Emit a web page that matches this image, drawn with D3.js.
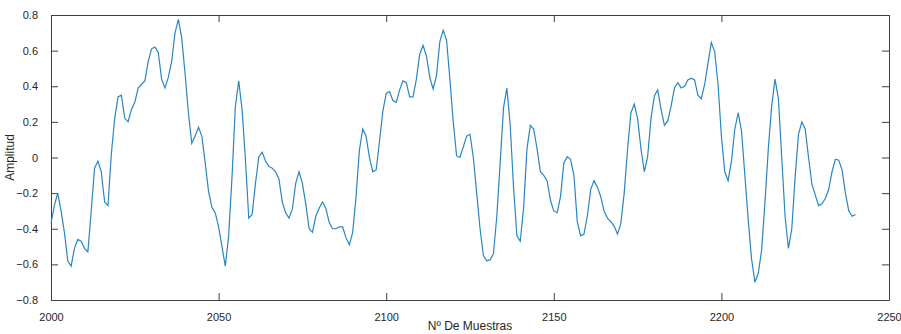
<!DOCTYPE html>
<html>
<head>
<meta charset="utf-8">
<script src="https://cdn.jsdelivr.net/npm/d3@7"></script>
<style>
  body { margin: 0; background: #fff; }
  .axis text { font-family: "Liberation Sans", Arial, sans-serif; font-size: 11px; fill: #262626; }
</style>
</head>
<body>
<div id="chart"></div>
<script>
// Sample range and signal values (one per sample, 2000..2240)
const startSample = 2000;
const amplitude = [
  -0.37, -0.27, -0.20, -0.30, -0.42, -0.58, -0.61, -0.51, -0.46, -0.47,
  -0.51, -0.53, -0.30, -0.06, -0.02, -0.08, -0.25, -0.27, 0.02, 0.22,
  0.34, 0.35, 0.22, 0.20, 0.27, 0.31, 0.39, 0.41, 0.43, 0.54,
  0.61, 0.62, 0.59, 0.44, 0.39, 0.45, 0.54, 0.70, 0.776, 0.67,
  0.47, 0.25, 0.08, 0.12, 0.17, 0.12, -0.03, -0.19, -0.28, -0.31,
  -0.39, -0.50, -0.61, -0.44, -0.11, 0.285, 0.43, 0.27, -0.01, -0.34,
  -0.32, -0.145, 0.005, 0.03, -0.02, -0.05, -0.06, -0.08, -0.12, -0.25,
  -0.31, -0.34, -0.29, -0.145, -0.08, -0.145, -0.26, -0.40, -0.42, -0.33,
  -0.285, -0.25, -0.285, -0.365, -0.40, -0.40, -0.39, -0.39, -0.45, -0.49,
  -0.42, -0.22, 0.04, 0.16, 0.12, 0.0, -0.08, -0.07, 0.09, 0.26,
  0.36, 0.37, 0.32, 0.31, 0.38, 0.43, 0.42, 0.34, 0.34, 0.44,
  0.58, 0.63, 0.57, 0.45, 0.385, 0.46, 0.65, 0.715, 0.66, 0.44,
  0.20, 0.01, 0.0, 0.06, 0.12, 0.13, 0.0, -0.20, -0.40, -0.55,
  -0.58, -0.575, -0.54, -0.33, -0.03, 0.28, 0.39, 0.18, -0.17, -0.44,
  -0.47, -0.28, 0.05, 0.18, 0.16, 0.05, -0.08, -0.10, -0.13, -0.24,
  -0.30, -0.31, -0.22, -0.03, 0.005, -0.01, -0.10, -0.36, -0.44, -0.43,
  -0.33, -0.18, -0.13, -0.165, -0.22, -0.30, -0.34, -0.36, -0.385, -0.43,
  -0.37, -0.20, 0.045, 0.25, 0.30, 0.22, 0.05, -0.08, 0.005, 0.22,
  0.345, 0.38, 0.27, 0.18, 0.205, 0.29, 0.39, 0.42, 0.39, 0.40,
  0.435, 0.445, 0.435, 0.35, 0.33, 0.41, 0.53, 0.645, 0.595, 0.41,
  0.12, -0.08, -0.13, -0.02, 0.16, 0.25, 0.15, -0.10, -0.35, -0.57,
  -0.70, -0.65, -0.52, -0.25, 0.05, 0.29, 0.44, 0.33, 0.0, -0.33,
  -0.51, -0.40, -0.11, 0.13, 0.20, 0.16, 0.0, -0.15, -0.21, -0.27,
  -0.26, -0.23, -0.18, -0.08, -0.01, -0.015, -0.07, -0.20, -0.30, -0.33,
  -0.32
];
const xTicks = [2000, 2050, 2100, 2150, 2200, 2250];
const yTicks = [-0.8, -0.6, -0.4, -0.2, 0, 0.2, 0.4, 0.6, 0.8];

const data = amplitude.map((v, i) => ({ sample: startSample + i, value: v }));

const margin = { top: 15, right: 12, bottom: 34, left: 51 };
const width = 901 - margin.left - margin.right;
const height = 334 - margin.top - margin.bottom;

const svg = d3.select("#chart").append("svg")
    .attr("width", 901)
    .attr("height", 334)
    .append("g")
    .attr("transform", `translate(${margin.left},${margin.top})`);

const x = d3.scaleLinear().domain([2000, 2250]).range([0, width]);
const y = d3.scaleLinear().domain([-0.8, 0.8]).range([height, 0]);

const tickLen = 7;
const fmtY = d => d === 0 ? "0" : d3.format(".1f")(d);

// Bottom / left axes with labels, ticks pointing inward
svg.append("g")
    .attr("class", "axis")
    .attr("transform", `translate(0,${height})`)
    .call(d3.axisBottom(x).tickValues(xTicks).tickFormat(d3.format("d"))
        .tickSizeInner(-tickLen).tickSizeOuter(0).tickPadding(13));

svg.append("g")
    .attr("class", "axis")
    .call(d3.axisLeft(y).tickValues(yTicks).tickFormat(fmtY)
        .tickSizeInner(-tickLen).tickSizeOuter(0).tickPadding(13));

// Top / right axes, ticks only
svg.append("g")
    .attr("class", "axis")
    .call(d3.axisTop(x).tickValues(xTicks).tickFormat("")
        .tickSizeInner(-tickLen).tickSizeOuter(0));

svg.append("g")
    .attr("class", "axis")
    .attr("transform", `translate(${width},0)`)
    .call(d3.axisRight(y).tickValues(yTicks).tickFormat("")
        .tickSizeInner(-tickLen).tickSizeOuter(0));

svg.selectAll(".axis path, .axis line")
    .attr("stroke", "#404040")
    .attr("stroke-width", 1);

// Signal line
const line = d3.line()
    .x(d => x(d.sample))
    .y(d => y(d.value));

svg.append("path")
    .datum(data)
    .attr("d", line)
    .attr("fill", "none")
    .attr("stroke", "#2a86c0")
    .attr("stroke-width", 1.2);

// Axis titles
svg.append("text")
    .attr("x", width / 2)
    .attr("y", height + 30)
    .attr("text-anchor", "middle")
    .attr("font-family", "Liberation Sans, Arial, sans-serif")
    .attr("font-size", "12px")
    .attr("fill", "#262626")
    .text("Nº De Muestras");

svg.append("text")
    .attr("transform", "rotate(-90)")
    .attr("x", -height / 2)
    .attr("y", -37)
    .attr("text-anchor", "middle")
    .attr("font-family", "Liberation Sans, Arial, sans-serif")
    .attr("font-size", "12px")
    .attr("fill", "#262626")
    .text("Amplitud");
</script>
</body>
</html>
